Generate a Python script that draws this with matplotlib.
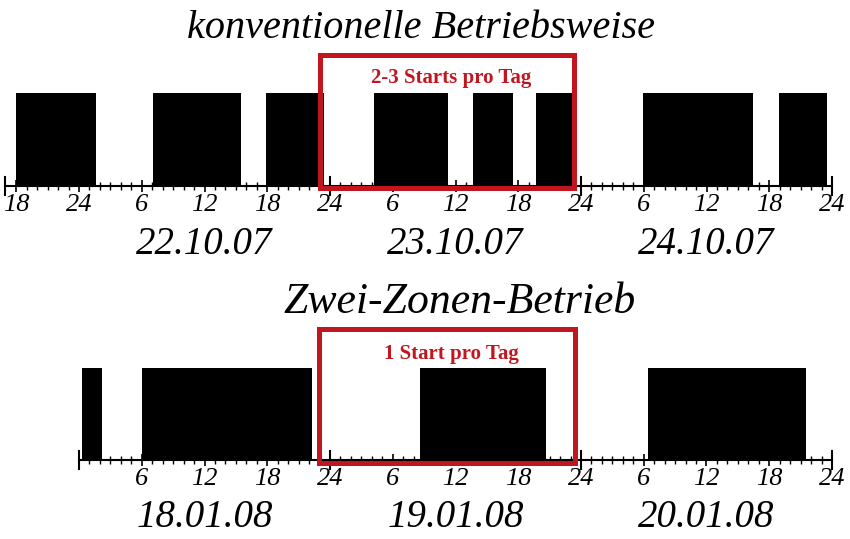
import matplotlib
matplotlib.use("Agg")
import matplotlib.pyplot as plt
from matplotlib.patches import Rectangle

plt.rcParams['font.family'] = ['Liberation Serif', 'DejaVu Serif']

# Betriebszeiten in Stunden ab 0 Uhr des ersten Tages
TopTitle = "konventionelle Betriebsweise"
TopDays = ["22.10.07", "23.10.07", "24.10.07"]
TopStart = [-6.0, 7.1, 17.9, 28.2, 37.7, 43.7, 53.9, 66.9]
TopEnd = [1.6, 15.5, 23.4, 35.3, 41.5, 47.5, 64.4, 71.5]
TopNote = "2-3 Starts pro Tag"

BottomTitle = "Zwei-Zonen-Betrieb"
BottomDays = ["18.01.08", "19.01.08", "20.01.08"]
BottomStart = [0.3, 6.0, 32.6, 54.4]
BottomEnd = [2.2, 22.3, 44.7, 69.5]
BottomNote = "1 Start pro Tag"

RED = "#c2161f"
W, H = 850, 539

fig = plt.figure(figsize=(8.5, 5.39), dpi=100)

def px_axes(left, right, top, bottom):
    return fig.add_axes([left / W, 1 - bottom / H, (right - left) / W, (bottom - top) / H])

def setup_axis(ax, x0, x1, ticks):
    ax.set_xlim(x0, x1)
    ax.set_ylim(0, 1)
    for s in ["top", "left", "right"]:
        ax.spines[s].set_visible(False)
    ax.spines["bottom"].set_linewidth(1.5)
    ax.set_yticks([])
    ax.set_xticks(ticks)
    ax.set_xticklabels([str(int(t % 24) if t % 24 else 24) for t in ticks],
                       fontsize=19, style="italic")
    ax.set_xticks([h for h in range(int(x0) + 1, int(x1) + 1)], minor=True)
    ax.tick_params(axis="x", which="major", direction="inout", length=8, width=1.2, pad=2)
    ax.tick_params(axis="x", which="minor", direction="inout", length=6, width=1.0)
    # hohe Markierungen an den Tagesgrenzen
    for d in [x0, 24, 48, 72]:
        ax.axvline(d, ymin=-0.1, ymax=0.1, color="black", lw=1.5, clip_on=False)

def draw_panel(ax, starts, ends, days, note, box, note_y):
    widths = [e - s for s, e in zip(starts, ends)]
    ax.bar(starts, 1, width=widths, bottom=0, align="edge", color="black", linewidth=0)
    for i, d in enumerate(days):
        ax.text(12 + 24 * i, -0.63, d, ha="center", va="center", fontsize=28,
                style="italic", clip_on=False)
    bx0, bx1, by0, by1 = box
    ax.add_patch(Rectangle((bx0, by0), bx1 - bx0, by1 - by0, fill=False,
                           edgecolor=RED, lw=3.6, clip_on=False, zorder=5))
    ax.text((bx0 + bx1) / 2 + 0.4, note_y, note, ha="center", va="center", fontsize=15,
            fontweight="bold", color=RED, clip_on=False)

ax1 = px_axes(5, 832, 93, 186)
setup_axis(ax1, -7.08, 72, list(range(-6, 73, 6)))
draw_panel(ax1, TopStart, TopEnd, TopDays, TopNote, (23.05, 47.33, -0.02, 1.41), 1.16)

ax2 = px_axes(79, 832, 368, 460)
setup_axis(ax2, 0, 72, list(range(6, 73, 6)))
draw_panel(ax2, BottomStart, BottomEnd, BottomDays, BottomNote, (22.95, 47.43, -0.033, 1.42), 1.15)

fig.text(421 / W, 1 - 29 / H, TopTitle, ha="center", va="center", fontsize=29, style="italic")
fig.text(460 / W, 1 - 302 / H, BottomTitle, ha="center", va="center", fontsize=31.5, style="italic")

fig.savefig("out.png", dpi=100)
